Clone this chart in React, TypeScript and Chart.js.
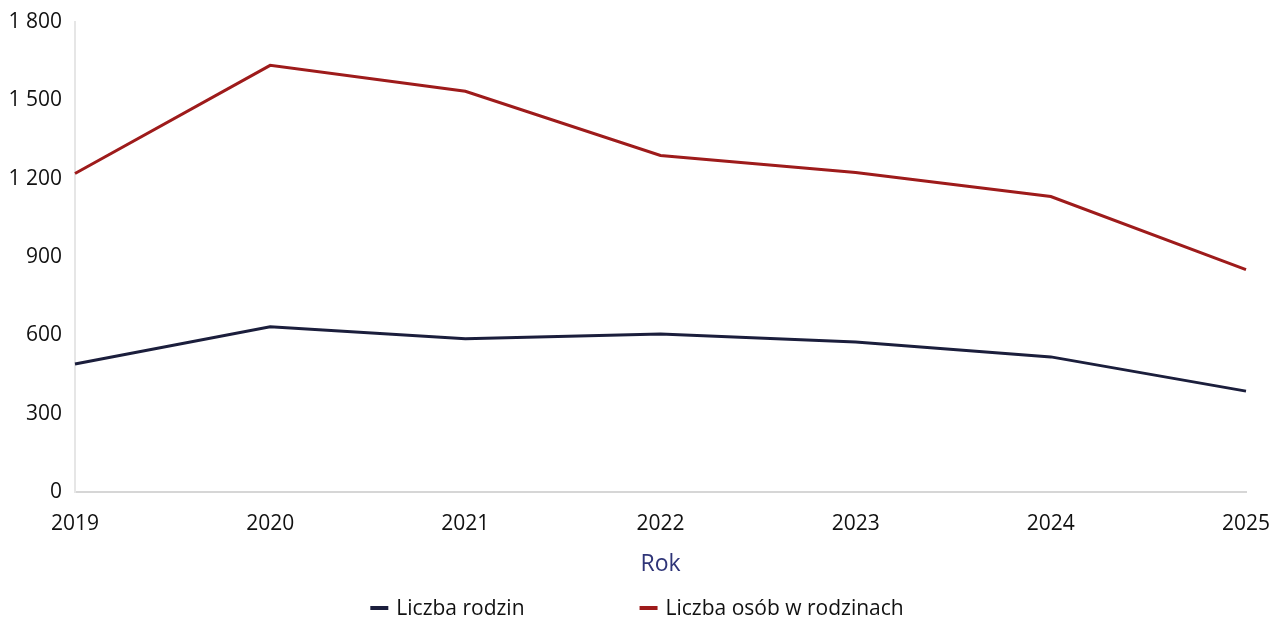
import React, { useEffect, useRef } from "react";
import { Chart, registerables } from "chart.js";

Chart.register(...registerables);

const years = ["2019", "2020", "2021", "2022", "2023", "2024", "2025"];
const familyCount = [491, 633, 587, 606, 575, 518, 387];
const personsInFamilies = [1220, 1634, 1535, 1289, 1224, 1132, 852];
const seriesNames = ["Liczba rodzin", "Liczba osób w rodzinach"];
const xTitle = "Rok";

const FONT = "'Open Sans', 'Noto Sans', sans-serif";

const bottomLegend = {
  id: "bottomLegend",
  afterDraw(chart: any) {
    const ctx = chart.ctx as CanvasRenderingContext2D;
    const ds = chart.data.datasets;
    ctx.save();
    ctx.font = `21px ${FONT}`;
    ctx.textBaseline = "middle";
    ctx.textAlign = "left";
    const boxW = 18;
    const boxH = 4;
    const gapText = 8;
    const gapItem = 115;
    const widths = ds.map((d: any) => boxW + gapText + ctx.measureText(d.label).width);
    const total = widths.reduce((a: number, b: number) => a + b, 0) + gapItem * (ds.length - 1);
    let x = chart.width / 2 + 1 - total / 2;
    const y = 609;
    ds.forEach((d: any, i: number) => {
      ctx.fillStyle = d.borderColor;
      ctx.fillRect(x, y - boxH / 2 - 1, boxW, boxH);
      ctx.fillStyle = "#111";
      ctx.fillText(d.label, x + boxW + gapText, y);
      x += widths[i] + gapItem;
    });
    ctx.restore();
  },
};

export default function App() {
  const ref = useRef<HTMLCanvasElement | null>(null);

  useEffect(() => {
    if (!ref.current) return;
    const chart = new Chart(ref.current, {
      type: "line",
      data: {
        labels: years,
        datasets: [
          {
            label: seriesNames[0],
            data: familyCount,
            borderColor: "#1b1e3c",
            backgroundColor: "#1b1e3c",
            borderWidth: 3,
            pointRadius: 0,
            tension: 0,
          },
          {
            label: seriesNames[1],
            data: personsInFamilies,
            borderColor: "#9e1b1b",
            backgroundColor: "#9e1b1b",
            borderWidth: 3,
            pointRadius: 0,
            tension: 0,
          },
        ],
      },
      options: {
        animation: false,
        responsive: false,
        maintainAspectRatio: false,
        layout: { padding: { top: 0, right: 0, left: 0, bottom: 44 } },
        plugins: {
          tooltip: { enabled: false },
          legend: { display: false },
        },
        scales: {
          x: {
            grid: { display: false, drawTicks: false },
            border: { color: "#d6d6d6", width: 2, dash: [3, 2] },
            offset: false,
            afterFit: (s: any) => {
              s.paddingRight = 26;
            },
            ticks: {
              font: { family: FONT, size: 21 },
              color: "#111",
              padding: 19,
              maxRotation: 0,
            },
            title: {
              display: true,
              text: xTitle,
              font: { family: FONT, size: 23 },
              color: "#2f3578",
              padding: { top: -5, bottom: 0 },
            },
          },
          y: {
            min: 0,
            max: 1800,
            afterFit: (s: any) => {
              s.width = 75;
              s.paddingTop = 22;
            },
            grid: { display: false, drawTicks: false },
            border: { color: "#e6e6e6", width: 2 },
            ticks: {
              stepSize: 300,
              font: { family: FONT, size: 21 },
              color: "#111",
              padding: 13,
              callback: (v: any) =>
                String(v).replace(/\B(?=(\d{3})+(?!\d))/g, " "),
            },
          },
        },
      },
      plugins: [bottomLegend],
    });
    return () => chart.destroy();
  }, []);

  return (
    <div
      style={{
        position: "absolute",
        left: 0,
        top: 0,
        width: 1272,
        height: 622,
        background: "#fff",
      }}
    >
      <canvas ref={ref} width={1272} height={622} />
    </div>
  );
}
